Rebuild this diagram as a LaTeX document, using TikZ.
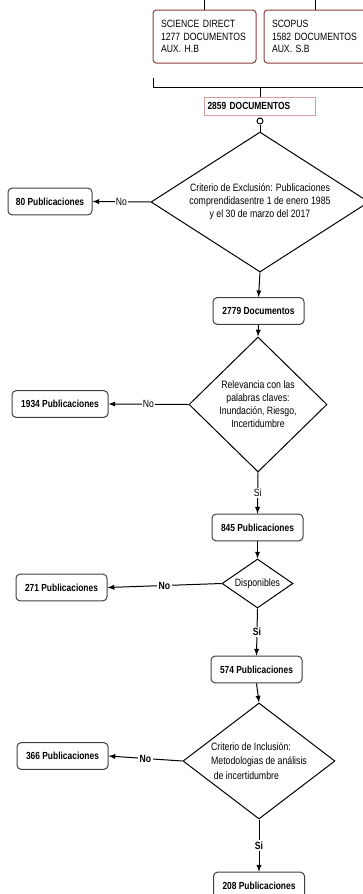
\documentclass[tikz,border=0pt]{standalone}
\usepackage{fontspec}
\setmainfont[FakeStretch=0.82]{Liberation Sans}
\usepackage{tikz}
\usetikzlibrary{shapes.geometric}
\tikzset{every picture/.style={line width=0.75pt}}
\definecolor{granate}{RGB}{140,62,62}
\definecolor{rosa}{RGB}{214,158,158}
\tikzset{
  base/.style={draw=granate, rounded corners=2.5pt, fill=white, minimum width=77.25pt, minimum height=39.75pt,
    text width=65.25pt, inner xsep=6pt, align=left, font=\fontsize{7.9}{9.4}\selectfont},
  total/.style={draw=rosa, fill=white, minimum width=83.25pt, minimum height=13.5pt, text width=78.75pt,
    inner xsep=2.25pt, inner ysep=0pt, align=left, font=\fontsize{7.7}{9}\selectfont\bfseries},
  caja/.style={draw=black!75, rounded corners=3pt, fill=white, minimum width=68.25pt, minimum height=20pt,
    inner sep=1pt, font=\fontsize{7.7}{9}\selectfont\bfseries},
  decision/.style={diamond, draw, inner sep=0pt, align=center, font=\fontsize{8}{9.75}\selectfont},
  etiq/.style={fill=white, inner sep=1pt, font=\fontsize{7.9}{9}\selectfont},
  etiqb/.style={etiq, font=\fontsize{7.9}{9}\selectfont\bfseries},
  >=latex
}

\begin{document}
\begin{tikzpicture}[x=0.75pt,y=0.75pt,yscale=-1,xscale=1]
%set diagram frame: width 363, height 894
\useasboundingbox (0,0) rectangle (363,894);
\clip (0,0) rectangle (363,894);

%Shape: Rectangle (fuentes)
\node[base] (sd) at (204.5,36.5) {SCIENCE DIRECT\\1277 DOCUMENTOS\\AUX. H.B};
\node[base] (sc) at (315.5,36.5) {SCOPUS\\1582 DOCUMENTOS\\AUX. S.B};
%Straight Lines
\draw (sd.north) -- ++(0,-12);
\draw (sc.north) -- ++(0,-12);
%Bracket
\coordinate (bl) at (153,78);
\coordinate (br) at (375,87);
\draw (bl) |- (br);

%Shape: Rectangle (total)
\node[total] (tot) at (260,106) {2859 DOCUMENTOS};
\draw (tot.north |- br) -- (tot.north);
%Shape: Circle
\node[circle, draw, fill=white, inner sep=0pt, minimum size=4.5pt] (c0) at (260,121) {};

%Shape: Diamond
\node[decision, minimum width=163.5pt, minimum height=105pt, aspect=1.56] (d1) at (260,202)
  {Criterio de Exclusión: Publicaciones\\comprendidasentre 1 de enero 1985\\y el 30 de marzo del 2017};
\draw (c0) -- (d1.north);
\node[caja, minimum width=63pt] (n80) at (50,201.5) {80 Publicaciones};
\draw[->] (d1.west) -- node[etiq] {No} (n80.east);
\node[caja] (n2779) at (258.5,311) {2779 Documentos};
\draw[->] (d1.south) -- (n2779.north);

%Shape: Diamond
\node[decision, minimum width=103.5pt, minimum height=101.25pt, aspect=1] (d2) at (258,404.5)
  {Relevancia con las\\palabras claves:\\Inundación, Riesgo,\\Incertidumbre};
\draw[->] (n2779.south) -- (d2.north);
\node[caja, minimum width=72pt] (n1934) at (60,404) {1934 Publicaciones};
\draw[->] (d2.west) -- node[etiq] {No} (n1934.east);
\node[caja] (n845) at (257.5,527.5) {845 Publicaciones};
\draw[->] (d2.south) -- node[etiq] {Si} (n845.north);

%Shape: Diamond
\node[decision, minimum width=53.25pt, minimum height=36.75pt, aspect=1.45] (d3) at (257.5,583.5) {Disponibles};
\draw[->] (n845.south) -- (d3.north);
\node[caja] (n271) at (61.5,587.5) {271 Publicaciones};
\draw[->] (d3.west) -- node[etiqb] {No} (n271.east);
\node[caja] (n574) at (256.5,669.5) {574 Publicaciones};
\draw[->] (d3.south) -- node[etiqb] {Si} (n574.north);

%Shape: Diamond
\node[decision, minimum width=114pt, minimum height=87pt, aspect=1.3, align=left,
  font=\fontsize{8}{10.6}\selectfont] (d4) at (259,761)
  {Criterio de Inclusión:\\Metodologias de análisis\\\hspace*{2pt}de incertidumbre};
\draw[->] (n574.south) -- (d4.north);
\node[caja] (n366) at (62.5,756) {366 Publicaciones};
\draw[->] (d4.west) -- node[etiqb] {No} (n366.east);
\node[caja] (n208) at (259,885.5) {208 Publicaciones};
\draw[->] (d4.south) -- node[etiqb] {Si} (n208.north);
\end{tikzpicture}
\end{document}
